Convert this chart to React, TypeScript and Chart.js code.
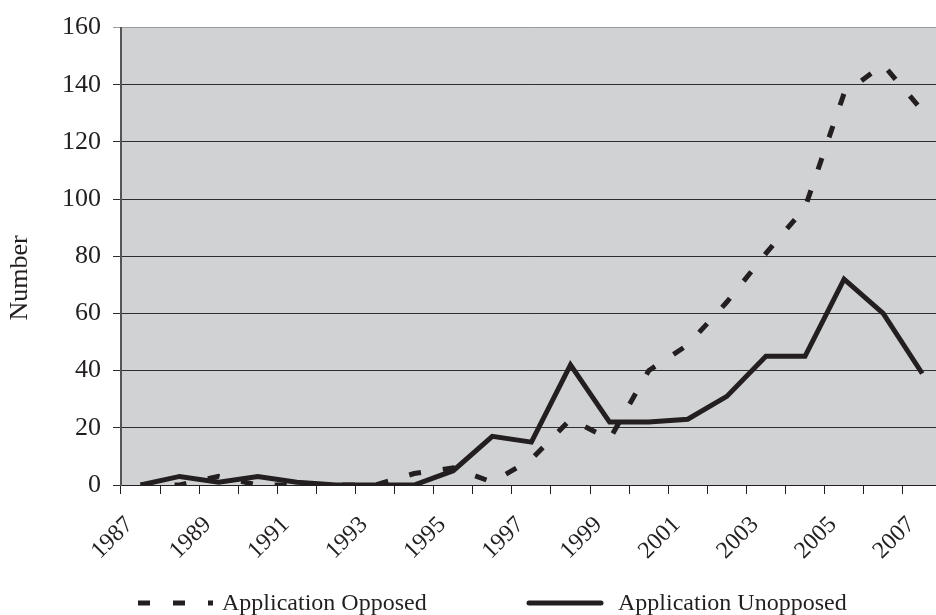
import React, { useEffect, useRef } from 'react';
import { Chart, registerables } from 'chart.js';

Chart.register(...registerables);

const years = ['1987','1988','1989','1990','1991','1992','1993','1994','1995','1996','1997','1998','1999','2000','2001','2002','2003','2004','2005','2006','2007'];
const opposed = [0, 0, 3, 0, 0, 0, 0, 4, 6, 1, 9, 23, 16, 40, 49, 64, 81, 97, 137, 147, 131];
const unopposed = [0, 3, 1, 3, 1, 0, 0, 0, 5, 17, 15, 42, 22, 22, 23, 31, 45, 45, 72, 60, 39];
const opposedLabel = 'Application Opposed';
const unopposedLabel = 'Application Unopposed';
const yTitle = 'Number';

const INK = '#231f20';
const FONT = "'Liberation Serif', 'Times New Roman', serif";

const decor = {
  id: 'decor',
  beforeDraw(chart: any) {
    const { ctx, chartArea } = chart;
    ctx.save();
    ctx.fillStyle = '#d1d2d4';
    ctx.fillRect(chartArea.left, chartArea.top, chartArea.right - chartArea.left, chartArea.bottom - chartArea.top);
    ctx.restore();
  },
  afterDraw(chart: any) {
    const { ctx } = chart;
    ctx.save();
    ctx.fillStyle = INK;
    // y title
    ctx.save();
    ctx.font = `26px ${FONT}`;
    ctx.translate(27, 278);
    ctx.rotate(-Math.PI / 2);
    ctx.textAlign = 'center';
    ctx.textBaseline = 'alphabetic';
    ctx.fillText(yTitle, 0, 0);
    ctx.restore();
    // legend
    ctx.font = `24px ${FONT}`;
    ctx.strokeStyle = INK;
    ctx.lineWidth = 5;
    ctx.setLineDash([12, 23]);
    ctx.lineCap = 'butt';
    ctx.beginPath();
    ctx.moveTo(138, 603);
    ctx.lineTo(213, 603);
    ctx.stroke();
    ctx.setLineDash([]);
    ctx.lineCap = 'round';
    ctx.beginPath();
    ctx.moveTo(529, 603);
    ctx.lineTo(601, 603);
    ctx.stroke();
    ctx.textAlign = 'left';
    ctx.textBaseline = 'alphabetic';
    ctx.fillText(opposedLabel, 222, 610);
    ctx.fillText(unopposedLabel, 618, 610);
    ctx.restore();
  },
};

export default function App() {
  const ref = useRef<HTMLCanvasElement | null>(null);
  useEffect(() => {
    if (!ref.current) return;
    const chart = new Chart(ref.current, {
      type: 'line',
      data: {
        labels: years,
        datasets: [
          {
            label: opposedLabel,
            data: opposed,
            borderColor: INK,
            borderWidth: 5,
            borderDash: [12, 22],
            pointRadius: 0,
            tension: 0,
            fill: false,
          },
          {
            label: unopposedLabel,
            data: unopposed,
            borderColor: INK,
            borderWidth: 5,
            pointRadius: 0,
            tension: 0,
            fill: false,
            borderJoinStyle: 'miter',
          },
        ],
      },
      options: {
        responsive: false,
        animation: false,
        devicePixelRatio: 1,
        layout: { padding: { left: 0, top: 24, right: 16, bottom: 50 } },
        plugins: {
          legend: { display: false },
          tooltip: { enabled: false },
        },
        scales: {
          x: {
            type: 'category',
            offset: true,
            afterFit: (s: any) => { s.height = 80; },
            grid: {
              offset: true,
              drawOnChartArea: false,
              drawTicks: true,
              tickLength: 9,
              color: INK,
              lineWidth: 1,
            },
            border: { display: true, color: INK, width: 1 },
            ticks: {
              autoSkip: false,
              minRotation: 45,
              maxRotation: 45,
              padding: 17,
              labelOffset: -11,
              color: INK,
              font: { family: FONT, size: 24 },
              callback: (_v: any, i: number) => (i % 2 === 0 ? years[i] : ''),
            },
          },
          y: {
            min: 0,
            max: 160,
            afterFit: (s: any) => { s.width = 121; },
            ticks: {
              stepSize: 20,
              padding: 12,
              color: INK,
              font: { family: FONT, size: 26 },
            },
            grid: {
              drawTicks: true,
              tickLength: 8,
              color: (c: any) => (c.tick && c.tick.value === 160 ? '#9a9b9d' : '#2e2e2e'),
              lineWidth: 1,
            },
            border: { display: true, color: '#555', width: 2 },
          },
        },
      },
      plugins: [decor],
    });
    return () => chart.destroy();
  }, []);
  return (
    <div style={{ position: 'absolute', left: 0, top: 0, width: 936, height: 615, overflow: 'hidden', background: '#fff' }}>
      <canvas ref={ref} width={960} height={615} style={{ display: 'block', width: 960, height: 615 }} />
    </div>
  );
}
